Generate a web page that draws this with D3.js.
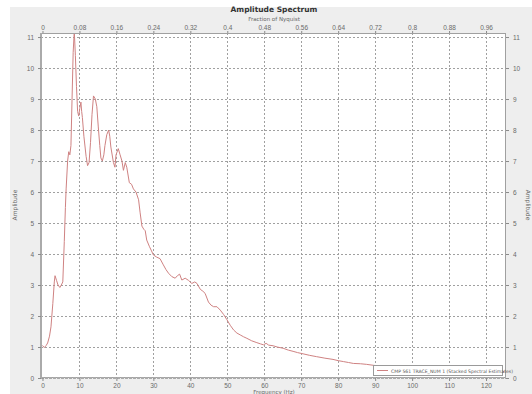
<!DOCTYPE html>
<html>
<head>
<meta charset="utf-8">
<script src="https://cdn.jsdelivr.net/npm/d3@7"></script>
<style>
  html, body { margin: 0; padding: 0; background: #ffffff; }
  svg { display: block; font-family: "DejaVu Sans", sans-serif; }
</style>
</head>
<body>
<svg id="chart" width="532" height="394"></svg>
<script>
// Amplitude spectrum (stacked spectral estimates), frequency in Hz
const freqHz = [0,0.5,1.0,1.4,1.9,2.3,2.8,3.2,3.4,3.8,4.2,4.7,5.1,5.5,5.9,6.2,6.4,6.8,7.1,7.4,7.7,8.0,8.3,8.6,8.9,9.2,9.5,9.8,10.1,10.4,10.6,10.8,11.2,11.8,12.2,12.6,13.0,13.4,13.8,14.3,14.7,15.1,15.5,15.8,16.2,16.6,16.9,17.4,17.9,18.2,18.5,19.2,19.6,19.9,20.5,21.0,21.5,21.9,22.4,22.8,23.5,24.1,24.6,25.3,26.0,26.4,26.9,27.4,27.8,28.2,28.9,29.5,30.0,30.9,31.8,32.7,33.4,34.1,35.0,35.9,36.5,37.1,37.7,38.6,39.5,40.4,41.2,41.8,42.7,43.4,44.0,44.9,45.6,46.3,47.2,48.1,49.0,49.9,50.8,51.7,52.6,53.5,54.4,55.3,56.6,58.0,59.0,59.8,60.5,61.2,62.4,63.5,65.1,66.5,67.8,69.0,70.5,72.3,74.1,76.4,78.6,80.0,81.4,82.8,84.1,86.0,87.7,89.5,91,95,100,105,110,115,120,125];
const amplitude = [1.05,0.98,1.05,1.13,1.35,1.65,2.4,3.1,3.3,3.15,3.0,2.92,3.0,3.1,4.4,5.5,6.1,7.0,7.3,7.2,7.5,9.0,10.5,11.2,10.4,9.4,8.6,8.45,8.7,8.9,8.6,8.4,7.8,7.15,6.85,6.95,7.6,8.5,9.1,9.0,8.75,8.1,7.5,7.1,7.0,7.2,7.5,7.85,8.0,7.8,7.45,6.95,6.8,7.2,7.4,7.2,7.0,6.7,6.95,6.8,6.3,6.25,6.1,6.0,5.75,5.35,4.9,4.8,4.75,4.45,4.25,4.1,3.97,3.9,3.85,3.65,3.5,3.38,3.27,3.22,3.3,3.35,3.16,3.22,3.15,3.05,3.1,3.05,2.86,2.8,2.73,2.45,2.35,2.3,2.3,2.19,2.05,1.88,1.7,1.55,1.45,1.39,1.33,1.28,1.2,1.14,1.1,1.07,1.12,1.06,1.04,1.0,0.96,0.9,0.86,0.82,0.78,0.73,0.69,0.64,0.6,0.56,0.53,0.5,0.47,0.46,0.44,0.41,0.39,0.35,0.31,0.28,0.25,0.23,0.21,0.2];

const freqTicks = [0,10,20,30,40,50,60,70,80,90,100,110,120];
const nyquistTicks = [0,0.08,0.16,0.24,0.32,0.4,0.48,0.56,0.64,0.72,0.8,0.88,0.96];
const ampTicks = [0,1,2,3,4,5,6,7,8,9,10,11];
const nyquistHz = 125;
const legendLabel = "CMP 561 TRACE_NUM 1  (Stacked Spectral Estimates)";

const svg = d3.select("#chart");
const plot = { left: 41, right: 506, top: 33, bottom: 378 };

// panel background
svg.append("rect").attr("x", 10).attr("y", 7).attr("width", 522).attr("height", 387).attr("fill", "#eeeeee");

const x = d3.scaleLinear().domain([-0.4, 125.4]).range([plot.left, plot.right]);
const xTop = d3.scaleLinear().domain([-0.4 / nyquistHz, 125.4 / nyquistHz]).range([plot.left, plot.right]);
const y = d3.scaleLinear().domain([0, 11.13]).range([plot.bottom, plot.top]);

svg.append("rect").attr("x", plot.left).attr("y", plot.top)
  .attr("width", plot.right - plot.left).attr("height", plot.bottom - plot.top)
  .attr("fill", "#ffffff");

// dotted grid
const grid = svg.append("g").attr("stroke", "#a0a0a0").attr("stroke-width", 1).attr("stroke-dasharray", "2,2");
grid.selectAll("line.v").data(freqTicks.filter(d => d > 0)).join("line")
  .attr("x1", d => Math.round(x(d)) + 0.5).attr("x2", d => Math.round(x(d)) + 0.5)
  .attr("y1", plot.top).attr("y2", plot.bottom);
grid.selectAll("line.h").data(ampTicks.filter(d => d > 0)).join("line")
  .attr("class", "h")
  .attr("y1", d => Math.round(y(d)) + 0.5).attr("y2", d => Math.round(y(d)) + 0.5)
  .attr("x1", plot.left).attr("x2", plot.right);

// spectrum curve
svg.append("clipPath").attr("id", "plotClip").append("rect")
  .attr("x", plot.left).attr("y", plot.top).attr("width", plot.right - plot.left).attr("height", plot.bottom - plot.top);
const line = d3.line().x((d, i) => x(freqHz[i])).y(d => y(d));
svg.append("path").datum(amplitude).attr("clip-path", "url(#plotClip)")
  .attr("d", line).attr("fill", "none").attr("stroke", "#cf8282").attr("stroke-width", 1);

// frame
svg.append("rect").attr("x", plot.left + 0.5).attr("y", plot.top + 0.5)
  .attr("width", plot.right - plot.left - 1).attr("height", plot.bottom - plot.top - 1)
  .attr("fill", "none").attr("stroke", "#a0a0a0").attr("stroke-width", 1);
svg.append("line").attr("x1", plot.left).attr("x2", plot.left).attr("y1", plot.top).attr("y2", plot.bottom + 1)
  .attr("stroke", "#aaaaaa").attr("stroke-width", 2);
svg.append("line").attr("x1", plot.left).attr("x2", plot.right).attr("y1", plot.bottom).attr("y2", plot.bottom)
  .attr("stroke", "#aaaaaa").attr("stroke-width", 2).attr("stroke-dasharray", "3,1");

const tickStyle = g => {
  g.select(".domain").remove();
  g.selectAll(".tick line").attr("stroke", "#8a8a8a");
  g.selectAll(".tick text").attr("fill", "#6a6a6a").attr("font-size", 6.5);
};

// axes
svg.append("g").attr("transform", `translate(0,${plot.bottom})`)
  .call(d3.axisBottom(x).tickValues(freqTicks).tickSize(3).tickPadding(2).tickFormat(d3.format("d")))
  .call(tickStyle);
svg.append("g").attr("transform", `translate(0,${plot.top})`)
  .call(d3.axisTop(xTop).tickValues(nyquistTicks).tickSize(2).tickPadding(1).tickFormat(d => String(d)))
  .call(tickStyle);
svg.append("g").attr("transform", `translate(${plot.left},0)`)
  .call(d3.axisLeft(y).tickValues(ampTicks).tickSize(3).tickPadding(4).tickFormat(d3.format("d")))
  .call(tickStyle);
svg.append("g").attr("transform", `translate(${plot.right},0)`)
  .call(d3.axisRight(y).tickValues(ampTicks).tickSize(3).tickPadding(4).tickFormat(d3.format("d")))
  .call(tickStyle);

// titles
svg.append("text").attr("x", 274).attr("y", 12).attr("text-anchor", "middle")
  .attr("font-size", 7.5).attr("font-weight", "bold").attr("fill", "#333").text("Amplitude Spectrum");
svg.append("text").attr("x", 274).attr("y", 20.5).attr("text-anchor", "middle")
  .attr("font-size", 5.5).attr("fill", "#666").text("Fraction of Nyquist");
svg.append("text").attr("x", 274).attr("y", 393.5).attr("text-anchor", "middle")
  .attr("font-size", 5.5).attr("fill", "#666").text("Frequency (Hz)");
svg.append("text").attr("transform", "translate(17,205) rotate(-90)").attr("text-anchor", "middle")
  .attr("font-size", 6).attr("fill", "#666").text("Amplitude");
svg.append("text").attr("transform", "translate(526,205) rotate(90)").attr("text-anchor", "middle")
  .attr("font-size", 6).attr("fill", "#666").text("Amplitude");

// legend
const lg = svg.append("g");
lg.append("rect").attr("x", 373.5).attr("y", 365.5).attr("width", 129).attr("height", 10)
  .attr("fill", "#ffffff").attr("stroke", "#9a9a9a");
lg.append("line").attr("x1", 377).attr("x2", 388).attr("y1", 370.5).attr("y2", 370.5)
  .attr("stroke", "#cf8282").attr("stroke-width", 1);
lg.append("text").attr("x", 391).attr("y", 372.5).attr("font-size", 4.6).attr("fill", "#555").text(legendLabel);
</script>
</body>
</html>
